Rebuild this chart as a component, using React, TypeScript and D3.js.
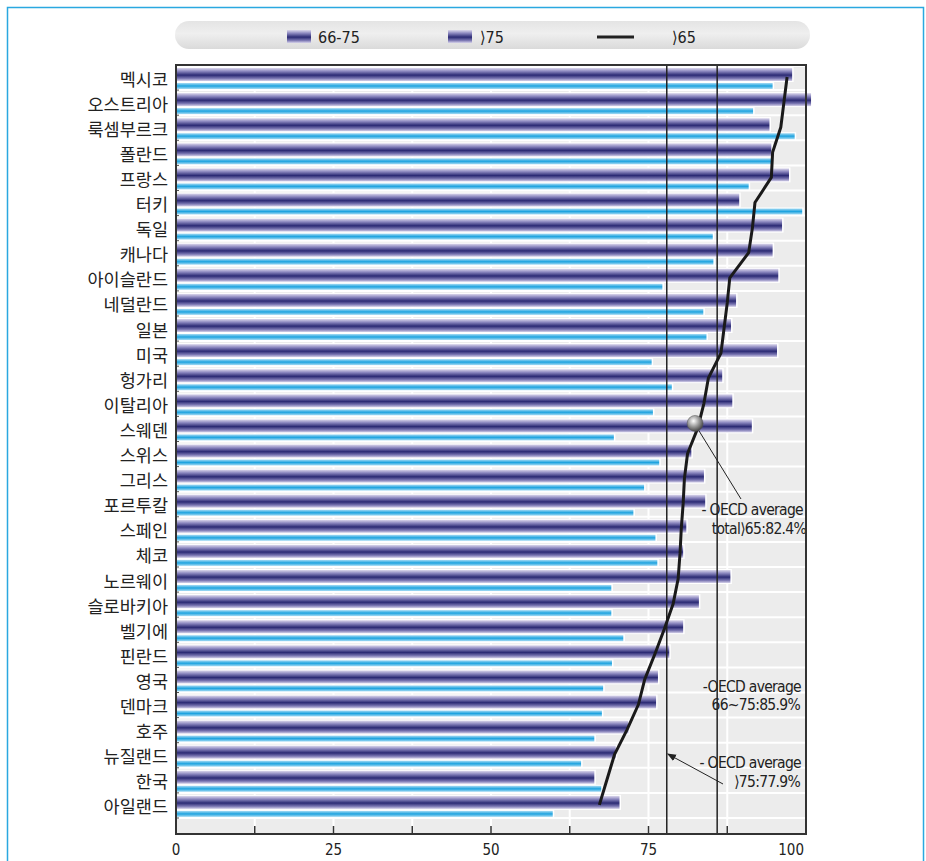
import React from "react";
import * as d3 from "d3";

const countries = ["멕시코","오스트리아","룩셈부르크","폴란드","프랑스","터키","독일","캐나다","아이슬란드","네덜란드","일본","미국","헝가리","이탈리아","스웨덴","스위스","그리스","포르투칼","스페인","체코","노르웨이","슬로바키아","벨기에","핀란드","영국","덴마크","호주","뉴질랜드","한국","아일랜드"];
const age66to75 = [97.8,100.8,94.2,94.5,97.3,89.4,96.2,94.7,95.6,88.9,88.1,95.4,86.7,88.3,91.4,81.8,83.8,84.0,81.0,80.5,88.0,83.0,80.5,78.3,76.5,76.2,71.8,69.8,66.4,70.4];
const age75plus = [94.7,91.6,98.2,94.5,90.9,99.4,85.2,85.3,77.2,83.7,84.2,75.5,78.7,75.7,69.5,76.7,74.3,72.6,76.1,76.4,69.1,69.1,71.0,69.2,67.8,67.6,66.4,64.3,67.5,59.8];
const age65plus = [97.0,96.5,96.0,94.7,94.5,91.9,91.5,90.9,87.9,87.5,87.0,86.5,84.5,83.8,82.8,81.2,80.7,80.5,80.2,80.0,79.7,78.9,77.5,76.0,74.4,73.4,71.6,69.6,68.4,67.2];
const xTicks = [0,25,50,75,100];
const minorTicks = [12.5,25,37.5,50,62.5,75,87.5];
const avgTotal = 82.4;
const avg66to75 = 85.9;
const avg75plus = 77.9;
const legendLabels = ["66-75","⟩75","⟩65"];

const W = 926, H = 861;
const left = 176, right = 806, top = 65, bottom = 834, rowH = 25.1;
const narrow = "'DejaVu Sans',sans-serif";

export default function App() {
  const x = d3.scaleLinear().domain([0, 100]).range([left, right]);
  const y = d3.scaleBand<string>().domain(countries).range([top, top + rowH * countries.length]).padding(0);
  const line = d3.line<number>()
    .x((d) => x(d))
    .y((_, i) => (y(countries[i]) as number) + 12)
    .curve(d3.curveLinear);
  const swedenY = (y("스웨덴") as number) + 7;
  const tstyle = { fontStretch: "condensed" as const };

  return (
    <svg width={W} height={H} style={{ position: "absolute", left: 0, top: 0, background: "#fff" }}>
      <defs>
        <linearGradient id="navy" x1="0" y1="0" x2="0" y2="1">
          <stop offset="0%" stopColor="#dcd8ec" />
          <stop offset="25%" stopColor="#8b87bf" />
          <stop offset="55%" stopColor="#2b2a74" />
          <stop offset="80%" stopColor="#7a76b2" />
          <stop offset="100%" stopColor="#d6d2ea" />
        </linearGradient>
        <linearGradient id="cyan" x1="0" y1="0" x2="0" y2="1">
          <stop offset="0%" stopColor="#a8dcf4" />
          <stop offset="50%" stopColor="#1ea3df" />
          <stop offset="100%" stopColor="#a8dcf4" />
        </linearGradient>
        <linearGradient id="pill" x1="0" y1="0" x2="0" y2="1">
          <stop offset="0%" stopColor="#e4e4e4" />
          <stop offset="45%" stopColor="#efefef" />
          <stop offset="100%" stopColor="#dadada" />
        </linearGradient>
        <radialGradient id="ball" cx="0.4" cy="0.35" r="0.7">
          <stop offset="0%" stopColor="#ffffff" />
          <stop offset="50%" stopColor="#9a9a9a" />
          <stop offset="100%" stopColor="#3a3a3a" />
        </radialGradient>
        <marker id="arrow" viewBox="0 0 10 10" refX="9" refY="5" markerWidth="9" markerHeight="9" orient="auto">
          <path d="M0,1 L10,5 L0,9 z" fill="#222" />
        </marker>
      </defs>

      {/* outer frame */}
      <rect x={7.5} y={7.5} width={916} height={880} fill="none" stroke="#2aa8e0" strokeWidth={1.5} />

      {/* legend */}
      <rect x={175} y={21} width={635} height={28} rx={14} fill="url(#pill)" />
      <g fontFamily={narrow} fontSize={16} fill="#222" style={tstyle}>
        <rect x={287} y={30} width={24} height={13} fill="url(#navy)" />
        <text x={318} y={37} dominantBaseline="central">{legendLabels[0]}</text>
        <rect x={448} y={30} width={24} height={13} fill="url(#navy)" />
        <text x={480} y={37} dominantBaseline="central">{legendLabels[1]}</text>
        <line x1={597} x2={634} y1={37} y2={37} stroke="#222" strokeWidth={3} />
        <text x={672} y={37} dominantBaseline="central">{legendLabels[2]}</text>
      </g>

      {/* plot background */}
      <rect x={left} y={top} width={right - left} height={bottom - top} fill="#ececec" />
      {countries.map((c) => (
        <line key={"h" + c} x1={left} x2={right} y1={(y(c) as number) + rowH} y2={(y(c) as number) + rowH} stroke="#fff" strokeWidth={2} />
      ))}
      <line x1={left} x2={right} y1={top + 1} y2={top + 1} stroke="#fff" strokeWidth={2} />
      {minorTicks.map((t) => (
        <line key={"v" + t} x1={x(t)} x2={x(t)} y1={top} y2={bottom} stroke="#fff" strokeWidth={2} />
      ))}

      {/* bars */}
      {countries.map((c, i) => {
        const y0 = y(c) as number;
        return (
          <g key={"b" + c}>
            <rect x={left} y={y0 + 2} width={x(age66to75[i]) - left + 1.5} height={15} fill="#fff" />
            <rect x={left} y={y0 + 17} width={x(age75plus[i]) - left + 1.5} height={8} fill="#fff" />
            <rect x={left} y={y0 + 3} width={x(age66to75[i]) - left} height={13} fill="url(#navy)" />
            <rect x={left} y={y0 + 18} width={x(age75plus[i]) - left} height={6} fill="url(#cyan)" />
          </g>
        );
      })}

      {/* OECD average vertical lines */}
      <line x1={x(avg75plus)} x2={x(avg75plus)} y1={top} y2={bottom} stroke="#222" strokeWidth={1.5} />
      <line x1={x(avg66to75)} x2={x(avg66to75)} y1={top} y2={bottom} stroke="#222" strokeWidth={1.5} />

      {/* >65 line */}
      <path d={line(age65plus) || ""} fill="none" stroke="#1a1a1a" strokeWidth={3} strokeLinejoin="round" />

      {/* average total marker */}
      <line x1={x(avgTotal) + 3} y1={swedenY + 6} x2={741} y2={499} stroke="#222" strokeWidth={1} />
      <circle cx={x(avgTotal)} cy={swedenY} r={8} fill="url(#ball)" stroke="#555" strokeWidth={0.5} />

      {/* annotations */}
      <g fontFamily={narrow} fontSize={15.5} fill="#222" textAnchor="end" letterSpacing={-0.7} style={tstyle}>
        <text x={803} y={510} dominantBaseline="central">- OECD average</text>
        <text x={806} y={529} dominantBaseline="central">{"total⟩65:" + avgTotal + "%"}</text>
        <text x={801} y={687} dominantBaseline="central">-OECD average</text>
        <text x={800} y={705} dominantBaseline="central">{"66~75:" + avg66to75 + "%"}</text>
        <text x={801} y={763} dominantBaseline="central">- OECD average</text>
        <text x={800} y={782} dominantBaseline="central">{"⟩75:" + avg75plus + "%"}</text>
      </g>
      <line x1={723} y1={784} x2={x(avg75plus) + 1} y2={754} stroke="#222" strokeWidth={1} markerEnd="url(#arrow)" />

      {/* left ticks */}
      {countries.map((c) => (
        <line key={"lt" + c} x1={left} x2={left + 3} y1={(y(c) as number) + rowH} y2={(y(c) as number) + rowH} stroke="#555" strokeWidth={1} />
      ))}

      {/* frame */}
      <rect x={left} y={top} width={right - left} height={bottom - top} fill="none" stroke="#333" strokeWidth={2} />

      {/* bottom ticks */}
      {minorTicks.map((t) => (
        <line key={"bt" + t} x1={x(t)} x2={x(t)} y1={bottom} y2={bottom - 8} stroke="#333" strokeWidth={1.5} />
      ))}
      <g fontFamily={narrow} fontSize={15} fill="#222" style={tstyle}>
        {xTicks.map((t) => (
          <text key={"xl" + t} x={t === 100 ? x(t) - 2 : x(t)} y={850} textAnchor={t === 100 ? "end" : "middle"} dominantBaseline="central">{t}</text>
        ))}
      </g>

      {/* country labels */}
      {countries.map((c) => (
        <text key={"cl" + c} x={168} y={(y(c) as number) + 13} textAnchor="end" dominantBaseline="central" fontFamily="'Noto Sans CJK KR','Noto Sans',sans-serif" fontSize={17.5} fill="#222">{c}</text>
      ))}
    </svg>
  );
}
